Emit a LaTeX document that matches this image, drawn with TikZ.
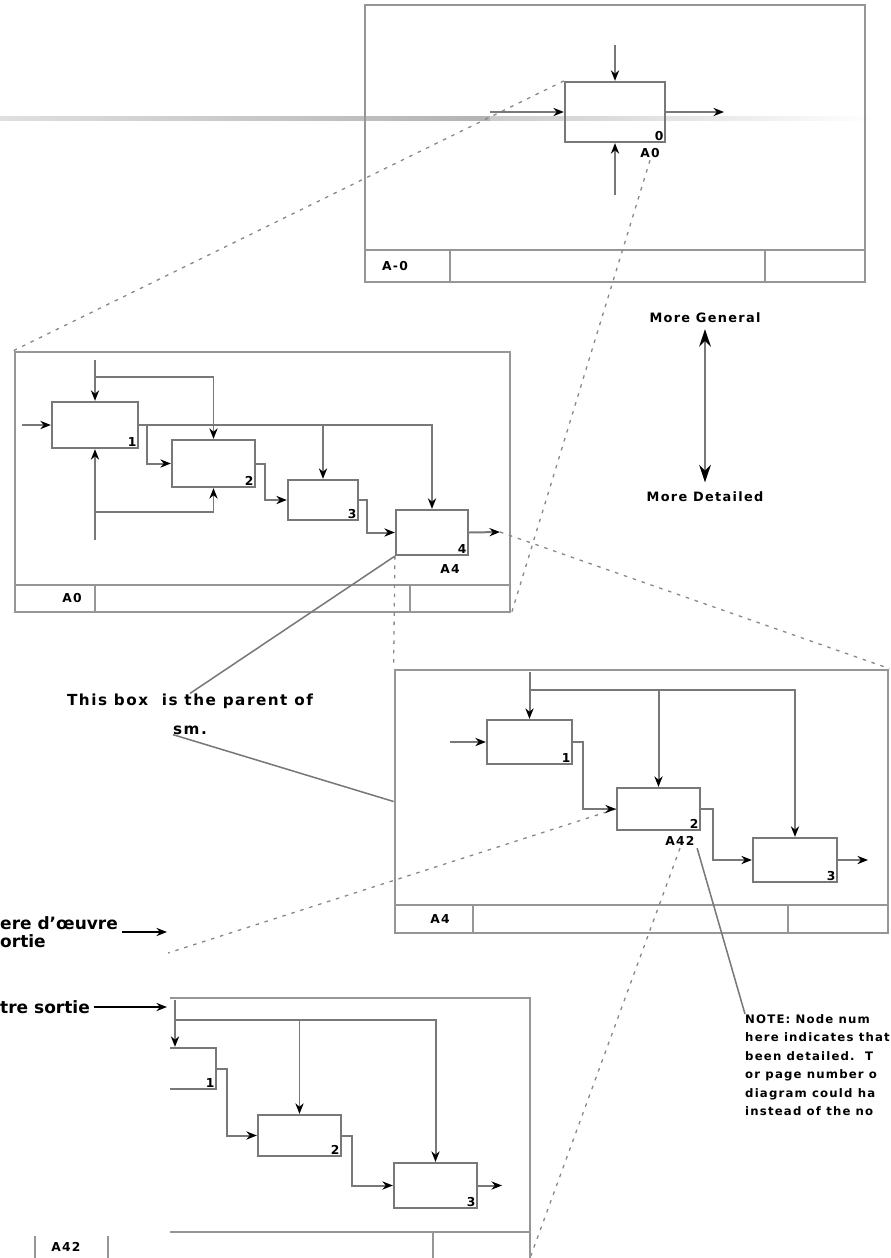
\documentclass[tikz,border=0pt]{standalone}
\usepackage{fontspec}
\setmainfont{DejaVu Sans}
\newfontfamily\pixfont{DejaVu Sans}[LetterSpace=10]
\usetikzlibrary{arrows.meta, positioning}

\definecolor{linegray}{RGB}{120,120,120}
\definecolor{framegray}{RGB}{150,150,150}
\definecolor{dashgray}{RGB}{135,135,135}

\tikzset{
  wh/.style 2 args={minimum width=#1*0.03cm, minimum height=#2*0.03cm},
  diagframe/.style={draw=framegray, line width=2.4pt, inner sep=0pt},
  actbox/.style={draw=linegray, line width=1.9pt, inner sep=0pt},
  flow/.style={draw=linegray, line width=1.7pt, -{Stealth[length=9pt, width=7pt, black]}},
  zoomlink/.style={draw=dashgray, line width=1.1pt, dash pattern=on 3pt off 5pt},
  leadline/.style={draw=linegray, line width=1.3pt},
  pointer/.style={draw=black, line width=1.4pt, -{Stealth[length=9pt, width=7pt]}},
  nodenum/.style={font=\pixfont\bfseries\fontsize{10.5}{11}\selectfont, inner sep=2pt},
  remark/.style={font=\pixfont\bfseries\fontsize{11}{15.8}\selectfont, inner sep=0pt, align=left},
  sidetag/.style={font=\bfseries\fontsize{14.5}{15.5}\selectfont, inner sep=0pt, align=left}
}

\begin{document}
\begin{tikzpicture}[x=0.03cm, y=-0.03cm]
\useasboundingbox (0,0) rectangle (890,1258);

% grey rule behind the top diagram
\shade[left color=gray!25, right color=gray!60] (0,116) rectangle (490,120);
\shade[left color=gray!40, right color=white] (490,116) rectangle (880,120);

% A-0 diagram
\node[diagframe, wh={500}{277}] (fa) at (615,143.5) {};
\draw[diagframe] (365,250) -- (865,250);
\draw[diagframe] (450,250) -- (450,282);
\draw[diagframe] (765,250) -- (765,282);
\node[nodenum] (faid) at (395,266) {A-0};

\node[actbox, wh={100}{60}] (a0) at (615,112) {};
\node[nodenum, anchor=south east] (a0n) at (a0.south east) {0};
\node[nodenum] (a0ref) at (650,153) {A0};
\coordinate (a0c) at (615,45);
\coordinate (a0i) at (490,112);
\coordinate (a0o) at (724,112);
\coordinate (a0m) at (615,195);

% A0 diagram
\node[diagframe, wh={495}{260}] (fb) at (262.5,482) {};
\draw[diagframe] (15,585) -- (510,585);
\draw[diagframe] (95,585) -- (95,612);
\draw[diagframe] (410,585) -- (410,612);
\node[nodenum] (fbid) at (72,598) {A0};

\node[actbox, wh={86}{46}] (b1) at (95,425) {};
\node[actbox, wh={83}{47}] (b2) at (213.5,463.5) {};
\node[actbox, wh={70}{40}] (b3) at (323,500) {};
\node[actbox, wh={72}{45}] (b4) at (432,532.5) {};
\node[nodenum, anchor=south east] (b1n) at (b1.south east) {1};
\node[nodenum, anchor=south east] (b2n) at (b2.south east) {2};
\node[nodenum, anchor=south east] (b3n) at (b3.south east) {3};
\node[nodenum, anchor=south east] (b4n) at (b4.south east) {4};
\node[nodenum] (b4ref) at (450,569) {A4};
\coordinate (b1c) at (95,360);
\coordinate (b1j) at (95,377);
\coordinate (b1i) at (22,425);
\coordinate (b1m) at (95,540);
\coordinate (b1k) at (95,512);
\coordinate (b4o) at (500,532);

% A4 diagram
\node[diagframe, wh={493}{263}] (fc) at (641.5,801.5) {};
\draw[diagframe] (395,905) -- (888,905);
\draw[diagframe] (473,905) -- (473,933);
\draw[diagframe] (788,905) -- (788,933);
\node[nodenum] (fcid) at (440,919) {A4};

\node[actbox, wh={85}{44}] (c1) at (529.5,742) {};
\node[actbox, wh={83}{42}] (c2) at (658.5,809) {};
\node[actbox, wh={84}{44}] (c3) at (795,860) {};
\node[nodenum, anchor=south east] (c1n) at (c1.south east) {1};
\node[nodenum, anchor=south east] (c2n) at (c2.south east) {2};
\node[nodenum, anchor=south east] (c3n) at (c3.south east) {3};
\node[nodenum] (c2ref) at (680,841) {A42};
\coordinate (c1c) at (529.5,672);
\coordinate (c1j) at (529.5,690);
\coordinate (c1i) at (450,742);
\coordinate (c3o) at (868,860);

% notes and labels
\node[remark] (gen) at (705,318) {More General};
\node[remark] (det) at (705,497) {More Detailed};
\node[remark, font=\pixfont\bfseries\fontsize{13}{15}\selectfont] (parent) at (190,701) {This box\ \ is the parent of};
\node[remark, font=\pixfont\bfseries\fontsize{13}{15}\selectfont] (parent2) at (190,730) {sm.};
\node[remark, anchor=north west, font=\pixfont\bfseries\fontsize{10}{15.8}\selectfont] (note) at (745,1014) {NOTE: Node num\\here indicates that\\been detailed.\ \ T\\or page number o\\diagram could ha\\instead of the no};
\node[sidetag, anchor=west] (sorta) at (0,932) {ere d'œuvre\\ortie};
\node[sidetag, anchor=west] (sortb) at (0,1007) {tre sortie};
\coordinate (sortatip) at (167,932);
\coordinate (sortbtip) at (167,1007);
\coordinate (x1) at (168,953);
\coordinate (x2) at (530,1258);

% zoom lines between parent boxes and child diagrams
\draw[zoomlink] (a0.north west) -- (fb.north west);
\draw[zoomlink] (a0ref.south) -- (fb.south east);
\draw[zoomlink] (b4.south west) -- (fc.north west);
\draw[zoomlink] (b4o) -- (fc.north east);
\draw[zoomlink] (c2.west) -- (x1);
\draw[zoomlink] (c2ref.south) -- (x2);

\draw[leadline] (b4.south west) -- (parent.north);
\draw[leadline] (parent2.south west) -- (fc.west);
\draw[leadline] (c2ref.south east) -- (note.north west);

\draw[pointer] ([xshift=3pt]sorta.east) -- (sortatip);
\draw[pointer] ([xshift=3pt]sortb.east) -- (sortbtip);
\draw[draw=linegray, line width=1.4pt, {Stealth[length=15pt, width=10pt, black]}-{Stealth[length=15pt, width=10pt, black]}]
  ([yshift=-5pt]gen.south) -- ([yshift=8pt]det.north);

% arrows of A-0
\draw[flow] (a0c) -- (a0.north);
\draw[flow] (a0i) -- (a0.west);
\draw[flow] (a0.east) -- (a0o);
\draw[flow] (a0m) -- (a0.south);

% arrows of A0
\draw[flow] (b1c) -- (b1.north);
\draw[flow] (b1j) -| (b2.north);
\draw[flow] (b1i) -- (b1.west);
\draw[flow] (b1.east) -| (b4.north);
\draw[flow] (b3.north |- b1.east) -- (b3.north);
\draw[flow] (b1.east) -- ++(8,0) |- (b2.west);
\draw[flow] (b1m) -- (b1.south);
\draw[flow] (b1k) -| (b2.south);
\draw[flow] (b2.east) -- ++(9,0) |- (b3.west);
\draw[flow] (b3.east) -- ++(8,0) |- (b4.west);
\draw[flow] (b4.east) -- (b4o);

% arrows of A4
\draw[flow] (c1c) -- (c1.north);
\draw[flow] (c1j) -| (c3.north);
\draw[flow] (c2.north |- c1j) -- (c2.north);
\draw[flow] (c1i) -- (c1.west);
\draw[flow] (c1.east) -- ++(10,0) |- (c2.west);
\draw[flow] (c2.east) -- ++(12,0) |- (c3.west);
\draw[flow] (c3.east) -- (c3o);

% A42 diagram, its left part hidden
\begin{scope}
  \clip (170,990) rectangle (545,1258);
  \node[diagframe, wh={560}{280}] (fd) at (250,1138) {};
  \draw[diagframe] (170,1232) -- (530,1232);
  \draw[diagframe] (433,1232) -- (433,1258);
  \node[actbox, wh={86}{41}] (e1) at (173,1068.5) {};
  \node[actbox, wh={83}{41}] (e2) at (299.5,1135.5) {};
  \node[actbox, wh={83}{45}] (e3) at (435.5,1185.5) {};
  \node[nodenum, anchor=south east] (e1n) at (e1.south east) {1};
  \node[nodenum, anchor=south east] (e2n) at (e2.south east) {2};
  \node[nodenum, anchor=south east] (e3n) at (e3.south east) {3};
  \coordinate (e1c) at (175,1000);
  \coordinate (e1j) at (175,1020);
  \coordinate (e3o) at (502,1185.5);
  \draw[flow] (e1c) -- (e1c |- e1.north);
  \draw[flow] (e1j) -| (e3.north);
  \draw[flow] (e2.north |- e1j) -- (e2.north);
  \draw[flow] (e1.east) -- ++(10,0) |- (e2.west);
  \draw[flow] (e2.east) -- ++(10,0) |- (e3.west);
  \draw[flow] (e3.east) -- (e3o);
\end{scope}
\draw[diagframe] (35,1236) -- (35,1258);
\draw[diagframe] (108,1236) -- (108,1258);
\node[nodenum] (fdid) at (66,1247) {A42};

\end{tikzpicture}
\end{document}
